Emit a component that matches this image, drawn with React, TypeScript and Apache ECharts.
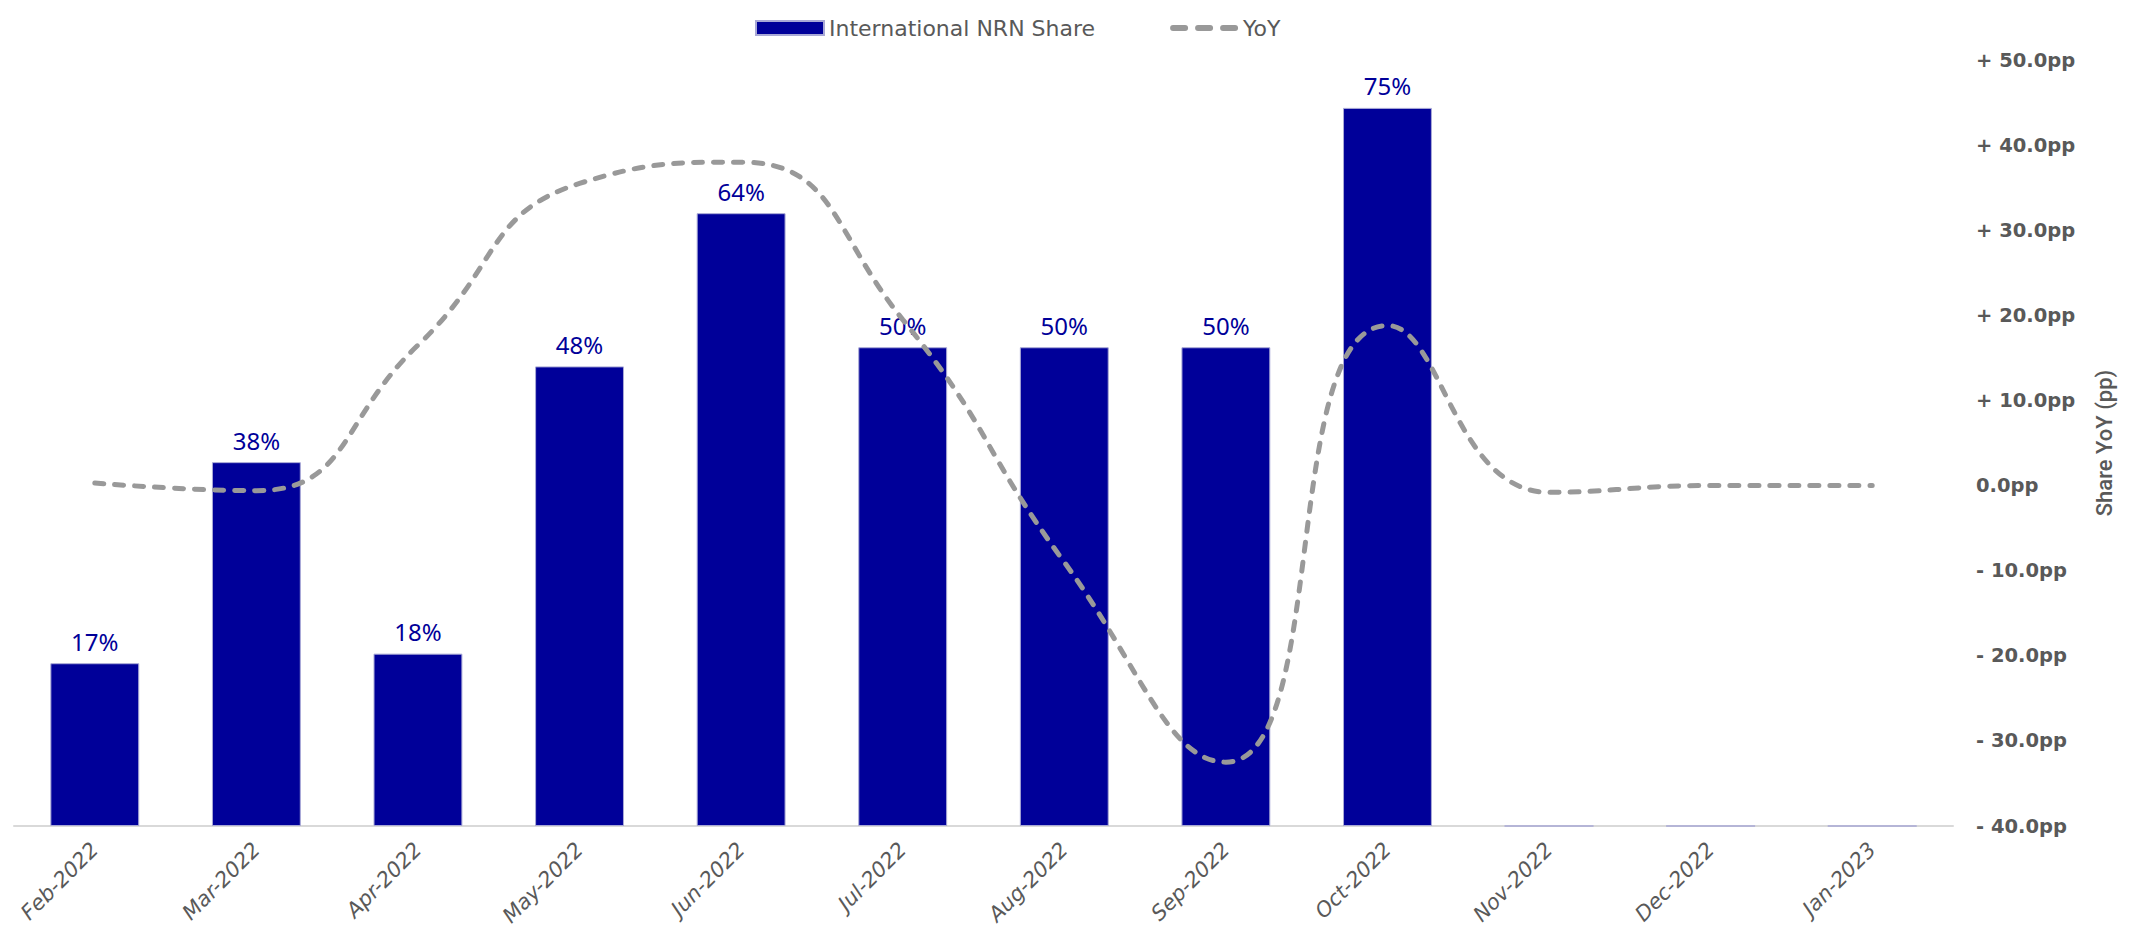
import React, { useEffect, useRef } from "react";
import * as echarts from "echarts";

const categories = [
  "Feb-2022", "Mar-2022", "Apr-2022", "May-2022", "Jun-2022", "Jul-2022",
  "Aug-2022", "Sep-2022", "Oct-2022", "Nov-2022", "Dec-2022", "Jan-2023",
];
const shareValues = [17, 38, 18, 48, 64, 50, 50, 50, 75, 0, 0, 0];
const yoyValues = [0.3, -0.6, 16.5, 35.5, 38, 19.5, -9, -32.5, 18.8, -0.8, 0, 0];

const yoyTicks = { min: -40, max: 50, interval: 10 };

function fmtPP(v: number): string {
  if (v > 0) return "+ " + v.toFixed(1) + "pp";
  if (v < 0) return "- " + Math.abs(v).toFixed(1) + "pp";
  return "0.0pp";
}

const dashIcon =
  "path://M0,0 L0.01,0 Z M3,4 L15,4 Q18,4 18,7 Q18,10 15,10 L3,10 Q0,10 0,7 Q0,4 3,4 Z " +
  "M28,4 L40,4 Q43,4 43,7 Q43,10 40,10 L28,10 Q25,10 25,7 Q25,4 28,4 Z " +
  "M53,4 L65,4 Q68,4 68,7 Q68,10 65,10 L53,10 Q50,10 50,7 Q50,4 53,4 Z M68,14 L68.01,14 Z";

export default function App() {
  const ref = useRef<HTMLDivElement>(null);
  useEffect(() => {
    if (!ref.current) return;
    const chart = echarts.init(ref.current, undefined, { renderer: "svg" });
    chart.setOption({
      animation: false,
      backgroundColor: "#ffffff",
      legend: {
        data: [
          { name: "International NRN Share", icon: "rect" },
          { name: "YoY", icon: dashIcon, itemStyle: { color: "#999999", borderWidth: 0 } },
        ],
        left: 750,
        top: 12,
        itemWidth: 68,
        itemHeight: 14,
        itemGap: 75,
        textStyle: { color: "#595959", fontSize: 22, fontFamily: "DejaVu Sans" },
      },
      grid: { left: 14, right: 188, top: 60, bottom: 114 },
      xAxis: {
        type: "category",
        data: categories,
        boundaryGap: true,
        axisTick: { show: false },
        axisLine: { lineStyle: { color: "#d9d9d9", width: 2 } },
        axisLabel: {
          rotate: 45,
          margin: 20,
          color: "#595959",
          fontSize: 21,
          fontStyle: "italic",
          fontFamily: "DejaVu Sans",
        },
      },
      yAxis: [
        { type: "value", min: 0, max: 80, show: false, splitLine: { show: false } },
        {
          type: "value",
          position: "right",
          min: yoyTicks.min,
          max: yoyTicks.max,
          interval: yoyTicks.interval,
          splitLine: { show: false },
          axisLine: { show: false },
          axisTick: { show: false },
          axisLabel: {
            formatter: fmtPP,
            margin: 23,
            color: "#595959",
            fontSize: 19.5,
            fontWeight: "bold",
            fontFamily: "DejaVu Sans",
          },
          name: "Share YoY (pp)",
          nameLocation: "middle",
          nameRotate: 90,
          nameGap: 140,
          nameTextStyle: { color: "#595959", fontSize: 22, fontWeight: 500, fontFamily: "Roboto" },
        },
      ],
      series: [
        {
          name: "International NRN Share",
          type: "bar",
          yAxisIndex: 0,
          data: shareValues,
          barWidth: "55%",
          itemStyle: { color: "#000099", borderColor: "#a9a9d6", borderWidth: 1 },
          label: {
            show: true,
            position: "top",
            distance: 10,
            color: "#000099",
            fontSize: 24,
            fontFamily: "Noto Sans",
            formatter: (p: any) => (p.value > 0 ? p.value + "%" : ""),
          },
        },
        {
          name: "YoY",
          type: "line",
          yAxisIndex: 1,
          data: yoyValues,
          smooth: 0.5,
          showSymbol: false,
          symbol: "none",
          itemStyle: { color: "#999999" },
          lineStyle: { color: "#999999", width: 5, type: [9, 11], cap: "round" },
          z: 5,
        },
      ],
    });
    return () => chart.dispose();
  }, []);
  return (
    <div
      ref={ref}
      style={{ position: "absolute", left: 0, top: 0, width: 2141, height: 940 }}
    />
  );
}
